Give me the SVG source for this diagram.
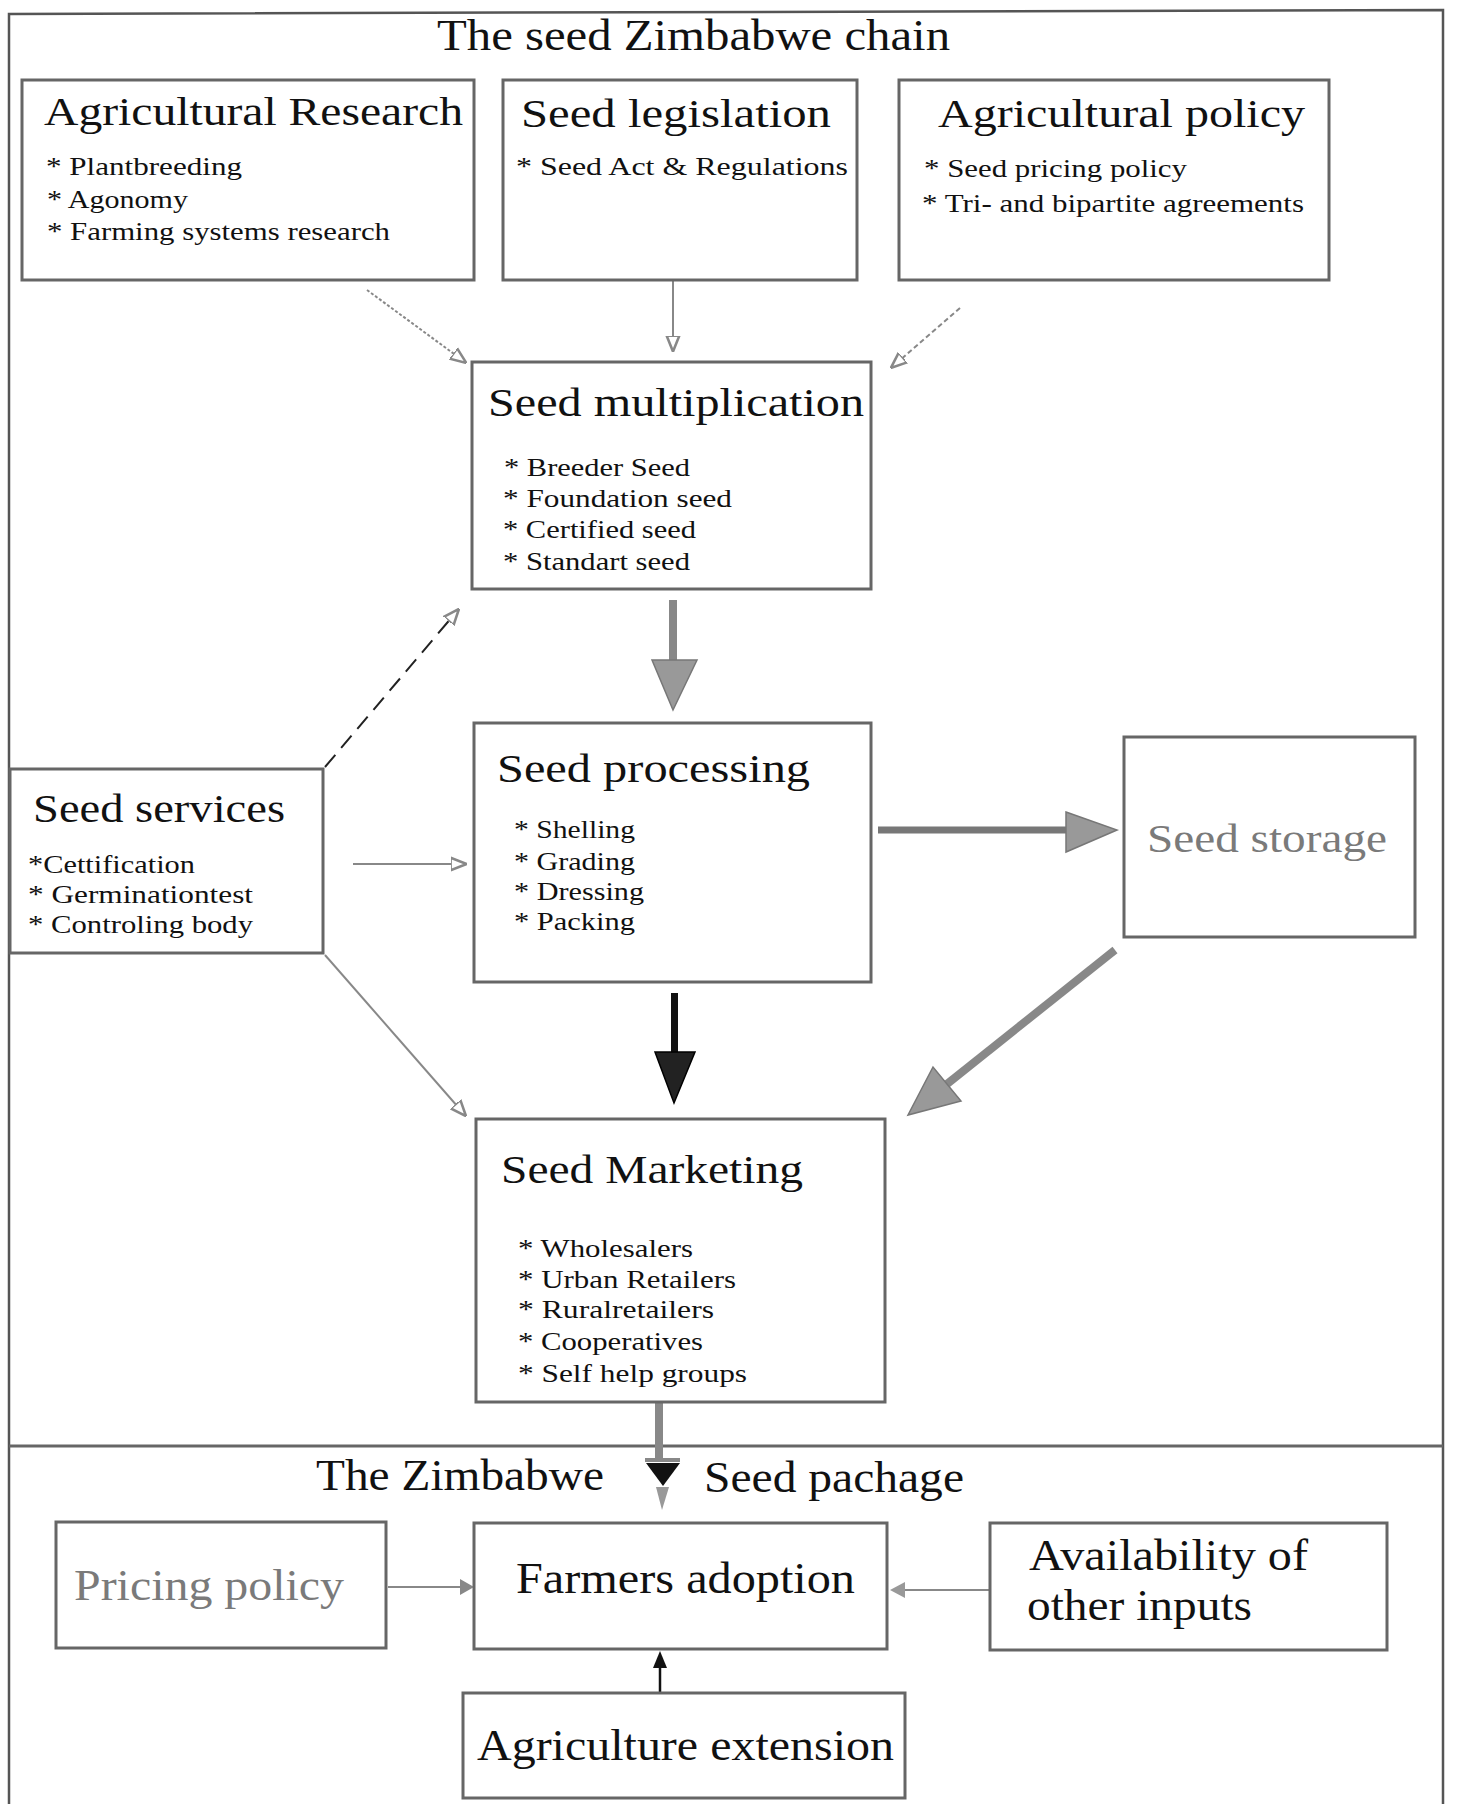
<svg xmlns="http://www.w3.org/2000/svg" width="1458" height="1804" viewBox="0 0 1458 1804">
<style>
.box{fill:#fff;stroke:#666;stroke-width:3}
.t{font-family:"Liberation Serif","Times New Roman",serif;fill:#111}
.h{font-size:40px}
.hb{font-size:44px}
.b{font-size:26px}
.g{fill:#7a7a7a}
.ln{stroke:#888;stroke-width:2;fill:none}
</style>
<defs>
<marker id="open" viewBox="0 0 10 10" refX="9" refY="5" markerWidth="16" markerHeight="16" markerUnits="userSpaceOnUse" orient="auto">
<path d="M0,1 L10,5 L0,9 z" fill="#fff" stroke="#888" stroke-width="1.6"/>
</marker>
</defs>
<rect x="0" y="0" width="1458" height="1804" fill="#fff"/>
<g id="frame">
<path d="M9,1804 L9,14 L1443,10 L1443,1804" fill="none" stroke="#555" stroke-width="2.5"/>
<path d="M9,1446 L1443,1446" fill="none" stroke="#666" stroke-width="3"/>
<text class="t hb" x="437" y="50" textLength="513" lengthAdjust="spacingAndGlyphs">The seed Zimbabwe chain</text>
<text class="t hb" x="316" y="1490" textLength="288" lengthAdjust="spacingAndGlyphs">The Zimbabwe</text>
<text class="t hb" x="704" y="1492" textLength="260" lengthAdjust="spacingAndGlyphs">Seed pachage</text>
</g>
<g id="connectors">
<line class="ln" x1="367" y1="290" x2="465" y2="362" stroke-dasharray="3 2" marker-end="url(#open)"/>
<line class="ln" x1="673" y1="281" x2="673" y2="350" marker-end="url(#open)"/>
<line class="ln" x1="960" y1="308" x2="892" y2="367" stroke-dasharray="5 3" marker-end="url(#open)"/>
<line x1="325" y1="767" x2="458" y2="610" stroke="#222" stroke-width="2" stroke-dasharray="16 9" marker-end="url(#open)"/>
<line class="ln" x1="353" y1="864" x2="465" y2="864" marker-end="url(#open)"/>
<line class="ln" x1="325" y1="955" x2="465" y2="1115" marker-end="url(#open)"/>
<rect x="669" y="600" width="8" height="62" fill="#888"/>
<polygon points="652,660 697,660 673,710" fill="#999" stroke="#777" stroke-width="1.5"/>
<line x1="878" y1="830" x2="1068" y2="830" stroke="#777" stroke-width="7"/>
<polygon points="1066,812 1117,830 1066,852" fill="#999" stroke="#777" stroke-width="1.5"/>
<line x1="1115" y1="950" x2="947" y2="1084" stroke="#888" stroke-width="8"/>
<polygon points="961,1101 908,1115 933,1067" fill="#999" stroke="#777" stroke-width="1.5"/>
<rect x="671" y="993" width="7" height="62" fill="#111"/>
<polygon points="655,1052 695,1052 674,1103" fill="#222" stroke="#000" stroke-width="1.5"/>
<rect x="655" y="1402" width="8" height="58" fill="#888"/>
<rect x="645" y="1458" width="35" height="4" fill="#888"/>
<polygon points="646,1463 680,1463 663,1486" fill="#111"/>
<polygon points="656,1487 669,1487 662,1510" fill="#999"/>
<line class="ln" x1="388" y1="1587" x2="462" y2="1587"/>
<polygon points="460,1579 474,1587 460,1595" fill="#888"/>
<line class="ln" x1="989" y1="1590" x2="903" y2="1590"/>
<polygon points="905,1582 890,1590 905,1598" fill="#999"/>
<line x1="660" y1="1692" x2="660" y2="1664" stroke="#111" stroke-width="2.5"/>
<polygon points="653,1668 660,1651 667,1668" fill="#111"/>
</g>
<g id="agricultural-research">
<rect class="box" x="22" y="80" width="452" height="200"/>
<text class="t h" x="44" y="125" textLength="419" lengthAdjust="spacingAndGlyphs">Agricultural Research</text>
<text class="t b" x="46" y="175" textLength="196" lengthAdjust="spacingAndGlyphs">* Plantbreeding</text>
<text class="t b" x="47" y="208" textLength="141" lengthAdjust="spacingAndGlyphs">* Agonomy</text>
<text class="t b" x="47" y="240" textLength="343" lengthAdjust="spacingAndGlyphs">* Farming systems research</text>
</g>
<g id="seed-legislation">
<rect class="box" x="503" y="80" width="354" height="200"/>
<text class="t h" x="521" y="127" textLength="310" lengthAdjust="spacingAndGlyphs">Seed legislation</text>
<text class="t b" x="516" y="175" textLength="332" lengthAdjust="spacingAndGlyphs">* Seed Act  &amp; Regulations</text>
</g>
<g id="agricultural-policy">
<rect class="box" x="899" y="80" width="430" height="200"/>
<text class="t h" x="938" y="127" textLength="367" lengthAdjust="spacingAndGlyphs">Agricultural policy</text>
<text class="t b" x="924" y="177" textLength="263" lengthAdjust="spacingAndGlyphs">* Seed pricing policy</text>
<text class="t b" x="922" y="212" textLength="382" lengthAdjust="spacingAndGlyphs">* Tri- and bipartite agreements</text>
</g>
<g id="seed-multiplication">
<rect class="box" x="472" y="362" width="399" height="227"/>
<text class="t h" x="488" y="416" textLength="376" lengthAdjust="spacingAndGlyphs">Seed multiplication</text>
<text class="t b" x="504" y="476" textLength="186" lengthAdjust="spacingAndGlyphs">* Breeder Seed</text>
<text class="t b" x="503" y="507" textLength="229" lengthAdjust="spacingAndGlyphs">* Foundation seed</text>
<text class="t b" x="503" y="538" textLength="193" lengthAdjust="spacingAndGlyphs">* Certified seed</text>
<text class="t b" x="503" y="570" textLength="187" lengthAdjust="spacingAndGlyphs">* Standart seed</text>
</g>
<g id="seed-services">
<rect class="box" x="10" y="769" width="313" height="184"/>
<text class="t h" x="33" y="822" textLength="252" lengthAdjust="spacingAndGlyphs">Seed services</text>
<text class="t b" x="28" y="873" textLength="167" lengthAdjust="spacingAndGlyphs">*Cettification</text>
<text class="t b" x="28" y="903" textLength="225" lengthAdjust="spacingAndGlyphs">* Germinationtest</text>
<text class="t b" x="28" y="933" textLength="225" lengthAdjust="spacingAndGlyphs">* Controling body</text>
</g>
<g id="seed-processing">
<rect class="box" x="474" y="723" width="397" height="259"/>
<text class="t h" x="497" y="782" textLength="313" lengthAdjust="spacingAndGlyphs">Seed processing</text>
<text class="t b" x="514" y="838" textLength="121" lengthAdjust="spacingAndGlyphs">* Shelling</text>
<text class="t b" x="514" y="870" textLength="121" lengthAdjust="spacingAndGlyphs">* Grading</text>
<text class="t b" x="514" y="900" textLength="130" lengthAdjust="spacingAndGlyphs">* Dressing</text>
<text class="t b" x="514" y="930" textLength="121" lengthAdjust="spacingAndGlyphs">* Packing</text>
</g>
<g id="seed-storage">
<rect class="box" x="1124" y="737" width="291" height="200"/>
<text class="t h g" x="1147" y="852" textLength="240" lengthAdjust="spacingAndGlyphs">Seed storage</text>
</g>
<g id="seed-marketing">
<rect class="box" x="476" y="1119" width="409" height="283"/>
<text class="t h" x="501" y="1183" textLength="302" lengthAdjust="spacingAndGlyphs">Seed Marketing</text>
<text class="t b" x="518" y="1257" textLength="175" lengthAdjust="spacingAndGlyphs">* Wholesalers</text>
<text class="t b" x="518" y="1288" textLength="218" lengthAdjust="spacingAndGlyphs">* Urban Retailers</text>
<text class="t b" x="518" y="1318" textLength="196" lengthAdjust="spacingAndGlyphs">* Ruralretailers</text>
<text class="t b" x="518" y="1350" textLength="185" lengthAdjust="spacingAndGlyphs">* Cooperatives</text>
<text class="t b" x="518" y="1382" textLength="229" lengthAdjust="spacingAndGlyphs">* Self help groups</text>
</g>
<g id="pricing-policy">
<rect class="box" x="56" y="1522" width="330" height="126"/>
<text class="t hb g" x="74" y="1600" textLength="270" lengthAdjust="spacingAndGlyphs">Pricing policy</text>
</g>
<g id="farmers-adoption">
<rect class="box" x="474" y="1523" width="413" height="126"/>
<text class="t hb" x="516" y="1593" textLength="339" lengthAdjust="spacingAndGlyphs">Farmers adoption</text>
</g>
<g id="availability">
<rect class="box" x="990" y="1523" width="397" height="127"/>
<text class="t hb" x="1029" y="1570" textLength="279" lengthAdjust="spacingAndGlyphs">Availability of</text>
<text class="t hb" x="1027" y="1620" textLength="225" lengthAdjust="spacingAndGlyphs">other inputs</text>
</g>
<g id="agriculture-extension">
<rect class="box" x="463" y="1693" width="442" height="105"/>
<text class="t hb" x="477" y="1760" textLength="417" lengthAdjust="spacingAndGlyphs">Agriculture extension</text>
</g>
</svg>
